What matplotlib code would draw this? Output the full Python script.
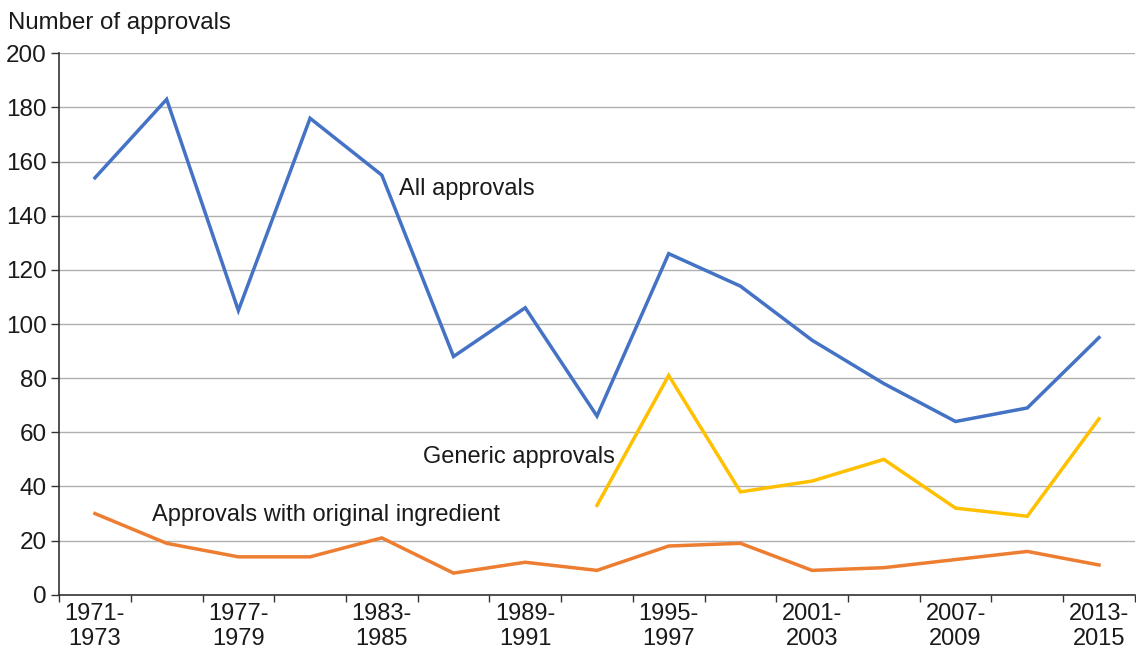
import numpy as np
import matplotlib
matplotlib.use("Agg")
import matplotlib.pyplot as plt

plt.rcParams['font.family'] = ['Liberation Sans', 'DejaVu Sans']

# three-year periods 1971-1973 ... 2013-2015
periods = ["1971-\n1973", "1974-\n1976", "1977-\n1979", "1980-\n1982", "1983-\n1985",
           "1986-\n1988", "1989-\n1991", "1992-\n1994", "1995-\n1997", "1998-\n2000",
           "2001-\n2003", "2004-\n2006", "2007-\n2009", "2010-\n2012", "2013-\n2015"]
all_approvals = [154, 183, 105, 176, 155, 88, 106, 66, 126, 114, 94, 78, 64, 69, 95]
generic = [None] * 7 + [33, 81, 38, 42, 50, 32, 29, 65]
original = [30, 19, 14, 14, 21, 8, 12, 9, 18, 19, 9, 10, 13, 16, 11]

x = np.arange(len(periods))
gen = np.array([np.nan if v is None else v for v in generic], dtype=float)

fig = plt.figure(figsize=(11.36, 6.5), dpi=100)
ax = fig.add_axes([0.052, 0.085, 0.947, 0.833])

ax.plot(x, all_approvals, color='#4472C4', lw=2.5, solid_joinstyle='miter')
ax.plot(x, gen, color='#FFC000', lw=2.5, solid_joinstyle='miter')
ax.plot(x, original, color='#ED7D31', lw=2.5, solid_joinstyle='miter')

ax.set_xlim(-0.5, len(periods) - 0.5)
ax.set_ylim(0, 200)
ax.set_yticks(range(0, 201, 20))
ax.grid(axis='y', color='#b0b0b0', lw=1)
ax.set_axisbelow(True)

ax.set_xticks(x[::2])
ax.set_xticklabels(periods[::2], linespacing=1.2)
ax.set_xticks(np.arange(-0.5, len(periods), 1), minor=True)
ax.tick_params(axis='x', which='major', length=0, pad=6, labelsize=17, labelcolor='#1a1a1a')
ax.tick_params(axis='x', which='minor', length=5, width=1, direction='out', color='#333333')
ax.tick_params(axis='y', length=6, width=1, color='#333333', labelsize=17.5, pad=3, labelcolor='#1a1a1a')

for s in ['top', 'right']:
    ax.spines[s].set_visible(False)
for s in ['left', 'bottom']:
    ax.spines[s].set_color('#333333')
    ax.spines[s].set_linewidth(1.2)

ax.text(4.24, 150, "All approvals", fontsize=17, va='center', ha='left', color='#1a1a1a')
ax.text(4.57, 51, "Generic approvals", fontsize=17, va='center', ha='left', color='#1a1a1a')
ax.text(0.79, 29.5, "Approvals with original ingredient", fontsize=17, va='center', ha='left', color='#1a1a1a')

fig.text(0.007, 0.965, "Number of approvals", fontsize=17.3, va='center', ha='left', color='#1a1a1a')

fig.savefig("out.png", dpi=100)
